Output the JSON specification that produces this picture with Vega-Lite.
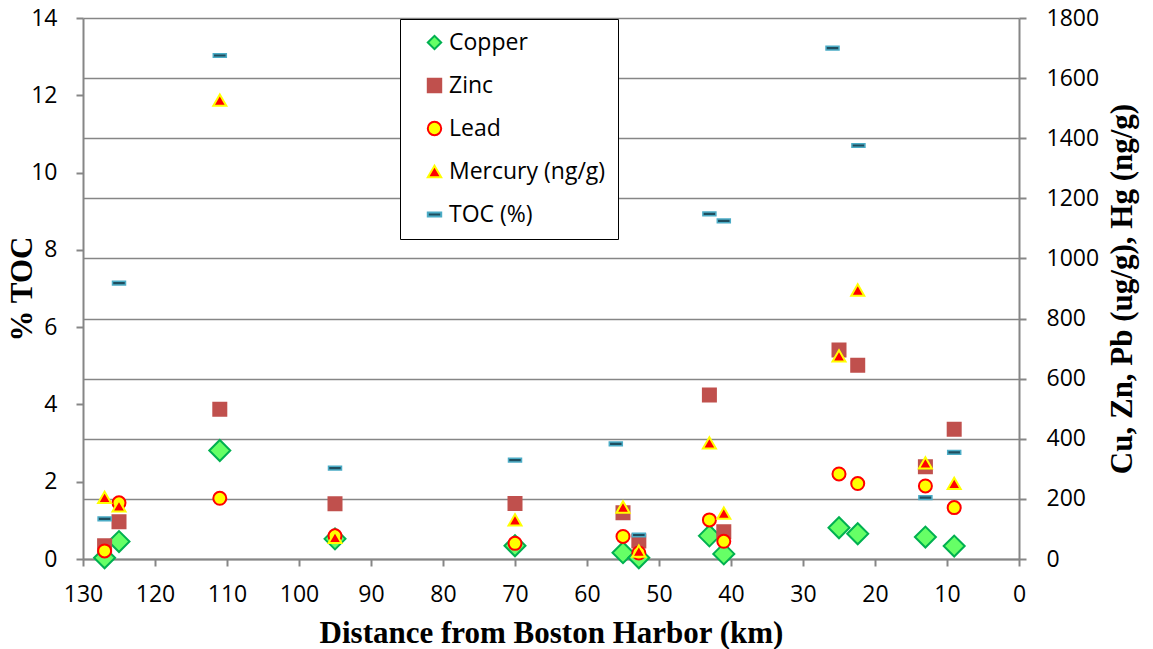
{
  "$schema": "https://vega.github.io/schema/vega-lite/v6.json",
  "width": 936,
  "height": 541,
  "autosize": {"type": "none"},
  "padding": {"left": 83, "top": 18, "right": 134, "bottom": 90},
  "background": "white",
  "data": {
    "values": [
      {"km": 127, "series": "Copper", "value": 4},
      {"km": 125, "series": "Copper", "value": 58},
      {"km": 111, "series": "Copper", "value": 361},
      {"km": 95, "series": "Copper", "value": 67},
      {"km": 70, "series": "Copper", "value": 44},
      {"km": 55, "series": "Copper", "value": 21},
      {"km": 52.8, "series": "Copper", "value": 4},
      {"km": 43, "series": "Copper", "value": 77},
      {"km": 41, "series": "Copper", "value": 17},
      {"km": 25, "series": "Copper", "value": 104},
      {"km": 22.4, "series": "Copper", "value": 84},
      {"km": 13, "series": "Copper", "value": 73},
      {"km": 9, "series": "Copper", "value": 43},
      {"km": 127, "series": "Zinc", "value": 44},
      {"km": 125, "series": "Zinc", "value": 124},
      {"km": 111, "series": "Zinc", "value": 498},
      {"km": 95, "series": "Zinc", "value": 184},
      {"km": 70, "series": "Zinc", "value": 185},
      {"km": 55, "series": "Zinc", "value": 154},
      {"km": 52.8, "series": "Zinc", "value": 60},
      {"km": 43, "series": "Zinc", "value": 546},
      {"km": 41, "series": "Zinc", "value": 91},
      {"km": 25, "series": "Zinc", "value": 695},
      {"km": 22.4, "series": "Zinc", "value": 645},
      {"km": 13, "series": "Zinc", "value": 307},
      {"km": 9, "series": "Zinc", "value": 432},
      {"km": 127, "series": "Lead", "value": 27},
      {"km": 125, "series": "Lead", "value": 187},
      {"km": 111, "series": "Lead", "value": 202},
      {"km": 95, "series": "Lead", "value": 77},
      {"km": 70, "series": "Lead", "value": 52},
      {"km": 55, "series": "Lead", "value": 75},
      {"km": 52.8, "series": "Lead", "value": 20},
      {"km": 43, "series": "Lead", "value": 130},
      {"km": 41, "series": "Lead", "value": 59},
      {"km": 25, "series": "Lead", "value": 283},
      {"km": 22.4, "series": "Lead", "value": 251},
      {"km": 13, "series": "Lead", "value": 243},
      {"km": 9, "series": "Lead", "value": 171},
      {"km": 127, "series": "Mercury (ng/g)", "value": 205},
      {"km": 125, "series": "Mercury (ng/g)", "value": 177},
      {"km": 111, "series": "Mercury (ng/g)", "value": 1527},
      {"km": 95, "series": "Mercury (ng/g)", "value": 72},
      {"km": 70, "series": "Mercury (ng/g)", "value": 130},
      {"km": 55, "series": "Mercury (ng/g)", "value": 173},
      {"km": 52.8, "series": "Mercury (ng/g)", "value": 26},
      {"km": 43, "series": "Mercury (ng/g)", "value": 386},
      {"km": 41, "series": "Mercury (ng/g)", "value": 153},
      {"km": 25, "series": "Mercury (ng/g)", "value": 676},
      {"km": 22.4, "series": "Mercury (ng/g)", "value": 895},
      {"km": 13, "series": "Mercury (ng/g)", "value": 320},
      {"km": 9, "series": "Mercury (ng/g)", "value": 252},
      {"km": 127, "series": "TOC (%)", "value": 1.04},
      {"km": 125, "series": "TOC (%)", "value": 7.14},
      {"km": 111, "series": "TOC (%)", "value": 13.03},
      {"km": 95, "series": "TOC (%)", "value": 2.35},
      {"km": 70, "series": "TOC (%)", "value": 2.56},
      {"km": 56, "series": "TOC (%)", "value": 2.98},
      {"km": 52.8, "series": "TOC (%)", "value": 0.62},
      {"km": 43, "series": "TOC (%)", "value": 8.93},
      {"km": 41, "series": "TOC (%)", "value": 8.75},
      {"km": 25.9, "series": "TOC (%)", "value": 13.22},
      {"km": 22.3, "series": "TOC (%)", "value": 10.7},
      {"km": 13, "series": "TOC (%)", "value": 1.59},
      {"km": 9, "series": "TOC (%)", "value": 2.76}
    ]
  },
  "encoding": {
    "x": {
      "field": "km",
      "type": "quantitative",
      "scale": {"domain": [0, 130], "reverse": true, "nice": false, "zero": false},
      "axis": {
        "values": [0, 10, 20, 30, 40, 50, 60, 70, 80, 90, 100, 110, 120, 130],
        "title": "Distance from Boston Harbor (km)",
        "labelFlush": false,
        "labelPadding": 17,
        "titlePadding": 12,
        "grid": false
      }
    },
    "shape": {
      "field": "series",
      "type": "nominal",
      "scale": {
        "domain": ["Copper", "Zinc", "Lead", "Mercury (ng/g)", "TOC (%)"],
        "range": ["diamond", "square", "circle", "triangle-up", "M-1,-0.28L1,-0.28L1,0.28L-1,0.28Z"]
      },
      "legend": {"title": null}
    },
    "fill": {
      "field": "series",
      "type": "nominal",
      "scale": {
        "domain": ["Copper", "Zinc", "Lead", "Mercury (ng/g)", "TOC (%)"],
        "range": ["#66FF66", "#C0504D", "#FFFF00", "#FF0000", "#1F4E5F"]
      },
      "legend": {"title": null}
    },
    "stroke": {
      "field": "series",
      "type": "nominal",
      "scale": {
        "domain": ["Copper", "Zinc", "Lead", "Mercury (ng/g)", "TOC (%)"],
        "range": ["#00B050", "#C0504D", "#FF0000", "#FFFF00", "#4BACC6"]
      },
      "legend": {"title": null}
    }
  },
  "layer": [
    {
      "layer": [
        {
          "transform": [{"filter": "datum.series === 'Copper'"}],
          "mark": {"type": "point", "size": 441, "strokeWidth": 2, "opacity": 1}
        },
        {
          "transform": [{"filter": "datum.series !== 'Copper' && datum.series !== 'TOC (%)'"}],
          "mark": {"type": "point", "size": 169, "strokeWidth": 2, "opacity": 1}
        }
      ],
      "encoding": {
        "y": {
          "field": "value",
          "type": "quantitative",
          "scale": {"domain": [0, 1800], "nice": false},
          "axis": {
            "orient": "right",
            "values": [0, 200, 400, 600, 800, 1000, 1200, 1400, 1600, 1800],
            "format": "d",
            "grid": true,
            "title": "Cu, Zn, Pb (ug/g), Hg (ng/g)",
            "titleAngle": -90,
            "titleBaseline": "top",
            "labelPadding": 20,
            "titlePadding": 9
          }
        }
      }
    },
    {
      "transform": [{"filter": "datum.series === 'TOC (%)'"}],
      "mark": {"type": "point", "size": 169, "strokeWidth": 1.5, "opacity": 1},
      "encoding": {
        "y": {
          "field": "value",
          "type": "quantitative",
          "scale": {"domain": [0, 14], "nice": false},
          "axis": {
            "orient": "left",
            "values": [0, 2, 4, 6, 8, 10, 12, 14],
            "grid": false,
            "title": "% TOC",
            "labelPadding": 19,
            "titlePadding": -8
          }
        }
      }
    }
  ],
  "resolve": {"scale": {"y": "independent"}},
  "config": {
    "view": {"stroke": null},
    "axis": {
      "labelFont": "Open Sans",
      "labelFontSize": 23,
      "labelColor": "black",
      "titleFont": "Liberation Serif",
      "titleFontWeight": "bold",
      "titleFontSize": 31,
      "titleColor": "black",
      "domainColor": "#868686",
      "domainWidth": 2,
      "tickColor": "#868686",
      "tickWidth": 2,
      "tickSize": 7,
      "gridColor": "#868686",
      "gridWidth": 1.5
    },
    "legend": {
      "orient": "none",
      "legendX": 317,
      "legendY": 1,
      "strokeColor": "black",
      "fillColor": "white",
      "padding": 12,
      "labelFont": "Open Sans",
      "labelFontSize": 23,
      "labelColor": "black",
      "symbolSize": 180,
      "symbolStrokeWidth": 2,
      "rowPadding": 19,
      "labelOffset": 3,
      "symbolOffset": 11
    }
  }
}
